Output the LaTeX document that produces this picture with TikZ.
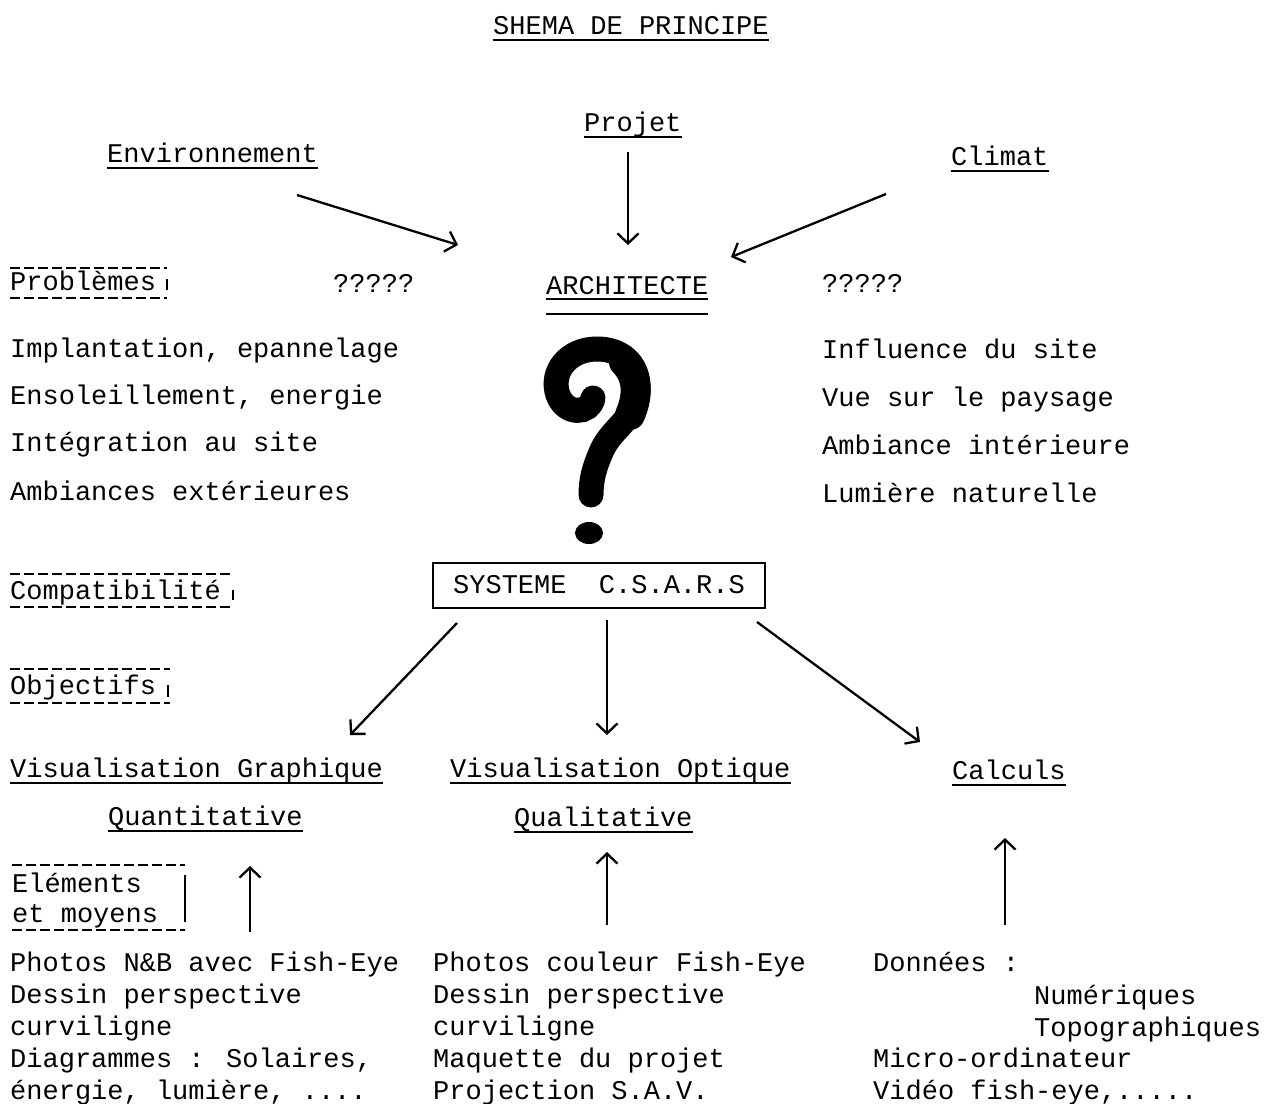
\documentclass[tikz,border=0pt]{standalone}
\usepackage{fontspec}
\setmainfont{Liberation Mono}
\usetikzlibrary{arrows.meta}
\begin{document}
\begin{tikzpicture}[x=1pt,y=-1pt,
  txt/.style={anchor=base west, inner sep=0pt, yshift=-2pt, font=\fontsize{27}{32}\selectfont},
  uline/.style={line width=2pt},
  dsh/.style={line width=2pt, dash pattern=on 10pt off 4pt},
  tick/.style={line width=1.6pt},
  arr/.style={line width=2.3pt, -{Straight Barb[length=10pt,width=21pt,line width=2.3pt]}},
  qm/.style={line width=25pt, line cap=round}]
\useasboundingbox[fill=white] (0,0) rectangle (1268,1103);

% title
\node[txt] (title) at (493,32) {SHEMA DE PRINCIPE};
\draw[uline] ([yshift=-6pt]title.base west) -- ([yshift=-6pt]title.base east);

% top inputs
\node[txt] (proj) at (584,129) {Projet};
\draw[uline] ([yshift=-6pt]proj.base west) -- ([yshift=-6pt]proj.base east);
\node[txt] (env) at (107,160) {Environnement};
\draw[uline] ([yshift=-6pt]env.base west) -- ([yshift=-6pt]env.base east);
\node[txt] (clim) at (951,163) {Climat};
\draw[uline] ([yshift=-6pt]clim.base west) -- ([yshift=-6pt]clim.base east);

% architecte
\node[txt] (arch) at (546,292) {ARCHITECTE};
\draw[uline] ([yshift=-5pt]arch.base west) -- ([yshift=-5pt]arch.base east);
\draw[uline] ([yshift=-20pt]arch.base west) -- ([yshift=-20pt]arch.base east);

\coordinate (envS) at (297,195);
\coordinate (envE) at (458,245);
\coordinate (projS) at (628,152);
\coordinate (projE) at (628,245);
\coordinate (climS) at (886,194);
\coordinate (climE) at (731,257);
\draw[arr] (envS) -- (envE);
\draw[arr] (projS) -- (projE);
\draw[arr] (climS) -- (climE);

% problemes
\node[txt] (prob) at (10,288) {Problèmes};
\draw[dsh] (10,268) -- (167,268);
\draw[dsh] (10,298) -- (167,298);
\draw[tick] (167,279) -- (167,290);
\node[txt] (qL) at (333,290) {?????};
\node[txt] (qR) at (822,290) {?????};

% lists
\node[txt] (l1) at (10,355) {Implantation, epannelage};
\node[txt] (l2) at (10,402) {Ensoleillement, energie};
\node[txt] (l3) at (10,449) {Intégration au site};
\node[txt] (l4) at (10,498) {Ambiances extérieures};
\node[txt] (r1) at (822,356) {Influence du site};
\node[txt] (r2) at (822,404) {Vue sur le paysage};
\node[txt] (r3) at (822,452) {Ambiance intérieure};
\node[txt] (r4) at (822,500) {Lumière naturelle};

% question mark
\draw[qm] (593,398) .. controls (590,414) and (566,416) .. (558,395)
  .. controls (550,372) and (568,349) .. (597,349)
  .. controls (625,349) and (640,368) .. (638,392)
  .. controls (636,418) and (612,428) .. (602,450)
  .. controls (594,468) and (591,480) .. (591,495);
\draw[line width=30pt, line cap=round] (624,362) .. controls (636,374) and (640,392) .. (630,415);
\fill (589,533) ellipse [x radius=14pt, y radius=11pt];

% compatibilite
\node[txt] (comp) at (10,597) {Compatibilité};
\draw[dsh] (10,574) -- (233,574);
\draw[dsh] (10,607) -- (233,607);
\draw[tick] (233,590) -- (233,600);

% systeme box
\node[draw, line width=2.2pt, minimum width=332pt, minimum height=45pt, inner sep=0pt,
  text height=16pt, text depth=0pt, font=\fontsize{27}{32}\selectfont] (sys) at (599,585.5) {SYSTEME\ \ C.S.A.R.S};

% objectifs
\node[txt] (obj) at (10,692) {Objectifs};
\draw[dsh] (10,669) -- (170,669);
\draw[dsh] (10,703) -- (170,703);
\draw[tick] (168,685) -- (168,697);

\coordinate (s1) at (457,623);
\coordinate (e1) at (350,735);
\coordinate (s2) at (607,620);
\coordinate (e2) at (607,735);
\coordinate (s3) at (757,622);
\coordinate (e3) at (920,742);
\draw[arr] (s1) -- (e1);
\draw[arr] (s2) -- (e2);
\draw[arr] (s3) -- (e3);

% objectives headings
\node[txt] (vg) at (10,775) {Visualisation Graphique};
\draw[uline] ([yshift=-6pt]vg.base west) -- ([yshift=-6pt]vg.base east);
\node[txt] (vo) at (450,775) {Visualisation Optique};
\draw[uline] ([yshift=-6pt]vo.base west) -- ([yshift=-6pt]vo.base east);
\node[txt] (calc) at (952,777) {Calculs};
\draw[uline] ([yshift=-6pt]calc.base west) -- ([yshift=-6pt]calc.base east);
\node[txt] (quan) at (108,823) {Quantitative};
\draw[uline] ([yshift=-6pt]quan.base west) -- ([yshift=-6pt]quan.base east);
\node[txt] (qual) at (514,824) {Qualitative};
\draw[uline] ([yshift=-6pt]qual.base west) -- ([yshift=-6pt]qual.base east);

% elements et moyens
\node[txt] (elem) at (12,890) {Eléments};
\node[txt] (moy) at (12,920) {et moyens};
\draw[dsh] (12,865) -- (185,865);
\draw[dsh] (12,930) -- (185,930);
\draw[tick] (185,875) -- (185,922);

\coordinate (u1s) at (250,932);
\coordinate (u1e) at (250,866);
\coordinate (u2s) at (607,925);
\coordinate (u2e) at (607,852);
\coordinate (u3s) at (1005,925);
\coordinate (u3e) at (1005,838);
\draw[arr] (u1s) -- (u1e);
\draw[arr] (u2s) -- (u2e);
\draw[arr] (u3s) -- (u3e);

% bottom lists
\node[txt] (a1) at (10,969) {Photos N\&B avec Fish-Eye};
\node[txt] (a2) at (10,1001) {Dessin perspective};
\node[txt] (a3) at (10,1033) {curviligne};
\node[txt] (a4) at (10,1065) {Diagrammes : Solaires,};
\node[txt] (a5) at (10,1097) {énergie, lumière, ....};
\node[txt] (b1) at (433,969) {Photos couleur Fish-Eye};
\node[txt] (b2) at (433,1001) {Dessin perspective};
\node[txt] (b3) at (433,1033) {curviligne};
\node[txt] (b4) at (433,1065) {Maquette du projet};
\node[txt] (b5) at (433,1097) {Projection S.A.V.};
\node[txt] (c1) at (873,969) {Données :};
\node[txt] (c2) at (1034,1002) {Numériques};
\node[txt] (c3) at (1034,1034) {Topographiques};
\node[txt] (c4) at (873,1065) {Micro-ordinateur};
\node[txt] (c5) at (873,1097) {Vidéo fish-eye,.....};
\end{tikzpicture}
\end{document}
